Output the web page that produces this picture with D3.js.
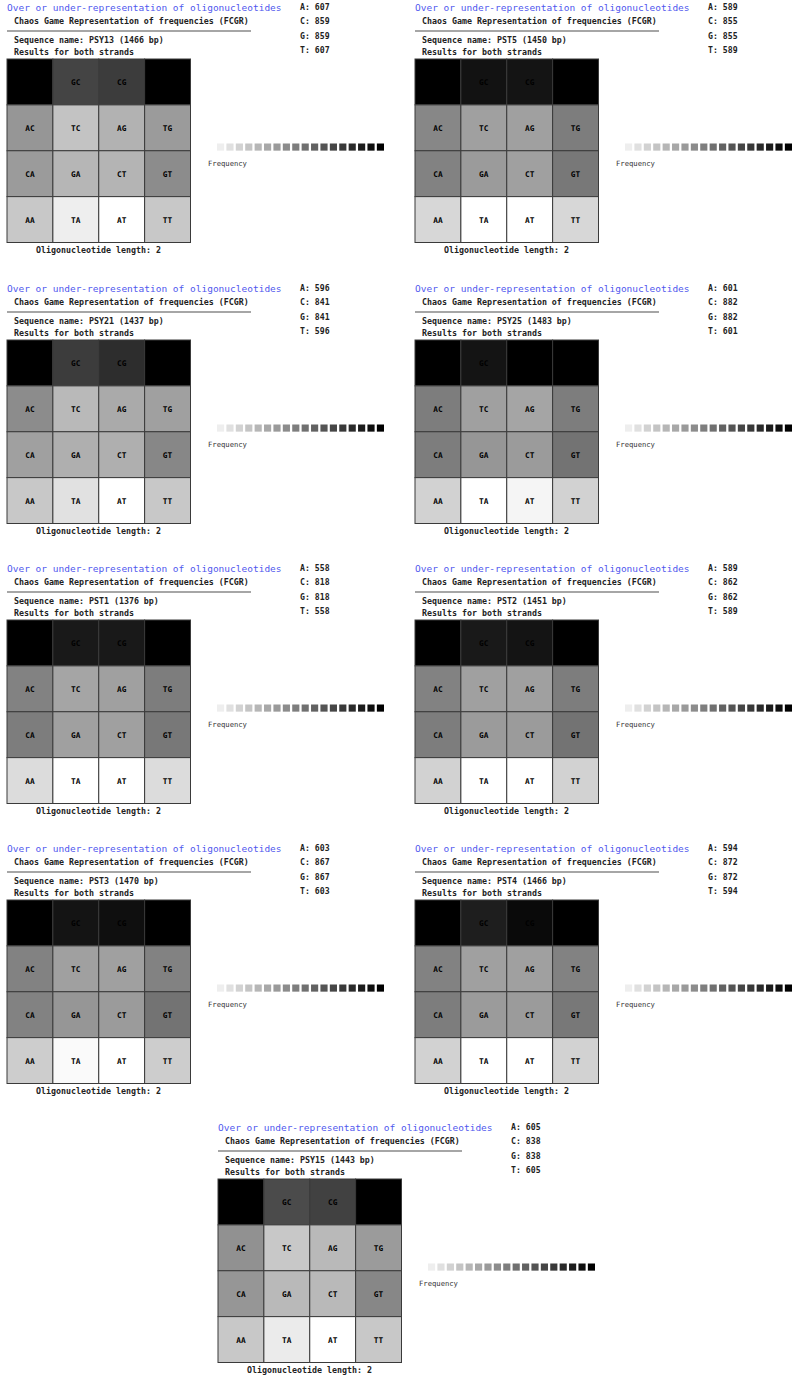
<!DOCTYPE html>
<html>
<head>
  <meta charset="utf-8">
  <title>FCGR dinucleotides</title>
  <script src="https://d3js.org/d3.v7.min.js"></script>
  <style>
    body { margin: 0; background: #fff; }
    text { font-family: "DejaVu Sans Mono", monospace; }
  </style>
</head>
<body>
<script>
// sequences, in the order they appear (left to right, top to bottom)
const seqNames   = ['PSY13', 'PST5', 'PSY21', 'PSY25', 'PST1', 'PST2', 'PST3', 'PST4', 'PSY15'];
const seqLengths = [1466, 1450, 1437, 1483, 1376, 1451, 1470, 1466, 1443];
const countA = [607, 589, 596, 601, 558, 589, 603, 594, 605];
const countC = [859, 855, 841, 882, 818, 862, 867, 872, 838];
const countG = [859, 855, 841, 882, 818, 862, 867, 872, 838];
const countT = [607, 589, 596, 601, 558, 589, 603, 594, 605];

// FCGR cell order (row by row, top to bottom)
const cellLabels = [
  'CC', 'GC', 'CG', 'GG',
  'AC', 'TC', 'AG', 'TG',
  'CA', 'GA', 'CT', 'GT',
  'AA', 'TA', 'AT', 'TT'
];

// grey level of each cell (0 = black / most frequent, 255 = white)
const greyPSY13 = [0, 68, 60, 0,  150, 195, 178, 155,  155, 182, 180, 140,  200, 238, 255, 200];
const greyPST5  = [0, 18, 20, 0,  135, 160, 160, 125,  130, 155, 160, 120,  215, 255, 255, 215];
const greyPSY21 = [0, 60, 45, 0,  140, 185, 170, 160,  160, 175, 175, 135,  200, 225, 255, 200];
const greyPSY25 = [0, 20, 0, 0,   125, 160, 165, 125,  125, 150, 155, 115,  210, 255, 245, 210];
const greyPST1  = [0, 25, 25, 0,  130, 165, 160, 125,  125, 160, 160, 120,  220, 255, 255, 220];
const greyPST2  = [0, 25, 20, 0,  130, 160, 160, 125,  125, 155, 155, 115,  210, 255, 255, 210];
const greyPST3  = [0, 20, 15, 0,  130, 160, 160, 130,  130, 150, 155, 115,  205, 250, 255, 205];
const greyPST4  = [0, 30, 10, 0,  130, 160, 160, 130,  125, 155, 155, 120,  210, 255, 255, 210];
const greyPSY15 = [0, 75, 65, 0,  145, 200, 185, 155,  150, 185, 185, 135,  200, 235, 255, 200];
const greys = [greyPSY13, greyPST5, greyPSY21, greyPSY25, greyPST1, greyPST2, greyPST3, greyPST4, greyPSY15];

const legendSteps = 18;

const width = 792, height = 1376;
const svg = d3.select('body').append('svg')
  .attr('width', width)
  .attr('height', height);

// where each panel sits
const offsets = [[0, 0], [408, 0], [0, 281], [408, 281], [0, 561], [408, 561], [0, 841], [408, 841], [211, 1120]];

const band = d3.scaleBand().domain(d3.range(4)).range([7, 190.5]).paddingInner(0);
const greyColor = v => d3.rgb(v, v, v).toString();
const legendScale = d3.scaleLinear().domain([0, legendSteps - 1]).range([238, 0]);
const legendX = d3.scaleBand().domain(d3.range(legendSteps)).range([217, 384]).paddingInner(0.24);

seqNames.forEach((name, p) => {
  const g = svg.append('g').attr('transform', `translate(${offsets[p][0]},${offsets[p][1]})`);

  g.append('text').attr('x', 7).attr('y', 11)
    .attr('font-size', 9.5).attr('fill', '#5058ee')
    .text('Over or under-representation of oligonucleotides');
  g.append('text').attr('x', 14).attr('y', 24)
    .attr('font-size', 8.3).attr('font-weight', 'bold').attr('fill', '#222')
    .text('Chaos Game Representation of frequencies (FCGR)');
  g.append('line').attr('x1', 7).attr('x2', 251).attr('y1', 31).attr('y2', 31)
    .attr('stroke', '#888').attr('stroke-width', 1.3);
  g.append('text').attr('x', 14).attr('y', 42.5)
    .attr('font-size', 8.3).attr('font-weight', 'bold').attr('fill', '#222')
    .text(`Sequence name: ${name} (${seqLengths[p]} bp)`);
  g.append('text').attr('x', 14).attr('y', 55)
    .attr('font-size', 8.3).attr('font-weight', 'bold').attr('fill', '#222')
    .text('Results for both strands');

  // nucleotide counts
  const counts = [['A', countA[p]], ['C', countC[p]], ['G', countG[p]], ['T', countT[p]]];
  g.selectAll('.cnt').data(counts).enter().append('text')
    .attr('class', 'cnt')
    .attr('x', 300).attr('y', (d, i) => [10, 24, 38.5, 53][i])
    .attr('font-size', 8.2).attr('font-weight', 'bold').attr('fill', '#222')
    .text(d => `${d[0]}: ${d[1]}`);

  // the 4x4 grid, shifted down
  const grid = g.append('g').attr('transform', 'translate(0,52)');
  const cells = grid.selectAll('.cell').data(cellLabels.map((l, i) => ({ l, v: greys[p][i], r: Math.floor(i / 4), c: i % 4 })))
    .enter().append('g').attr('class', 'cell');
  cells.append('rect')
    .attr('x', d => band(d.c)).attr('y', d => band(d.r))
    .attr('width', band.bandwidth()).attr('height', band.bandwidth())
    .attr('fill', d => greyColor(d.v))
    .attr('stroke', '#3a3a3a').attr('stroke-width', 1);
  cells.append('text')
    .attr('x', d => band(d.c) + band.bandwidth() / 2)
    .attr('y', d => band(d.r) + band.bandwidth() / 2 + 3)
    .attr('text-anchor', 'middle')
    .attr('font-size', 7.8).attr('font-weight', 'bold').attr('fill', '#000')
    .text(d => d.l);

  g.append('text').attr('x', 98.5).attr('y', 253)
    .attr('text-anchor', 'middle')
    .attr('font-size', 8.3).attr('font-weight', 'bold').attr('fill', '#222')
    .text('Oligonucleotide length: 2');

  // frequency legend
  g.selectAll('.leg').data(d3.range(legendSteps)).enter().append('rect')
    .attr('class', 'leg')
    .attr('x', d => legendX(d)).attr('y', 143.5)
    .attr('width', legendX.bandwidth()).attr('height', legendX.bandwidth())
    .attr('fill', d => greyColor(Math.round(legendScale(d))));
  g.append('text').attr('x', 208).attr('y', 165.5)
    .attr('font-size', 7.2).attr('fill', '#333')
    .text('Frequency');
});
</script>
</body>
</html>
